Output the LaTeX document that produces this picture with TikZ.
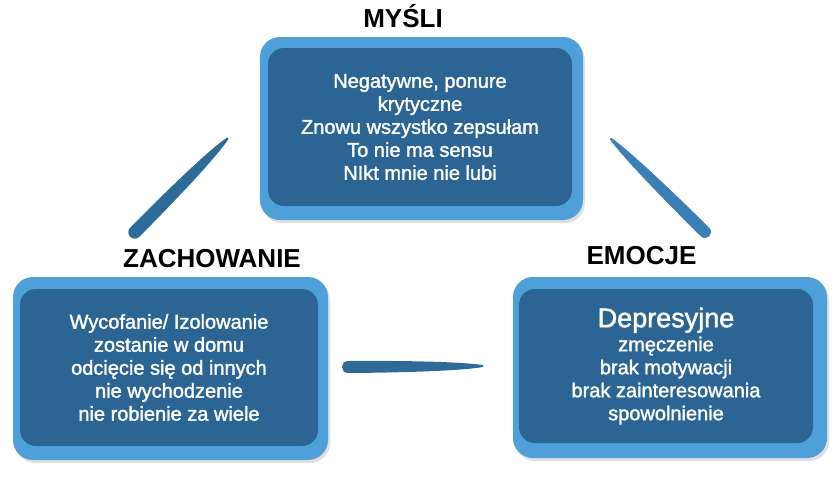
\documentclass[tikz,border=0pt]{standalone}
\usepackage{fontspec}
\setmainfont{Liberation Sans}
\newfontfamily\bodyfont[FakeBold=1.6]{Liberation Sans}
\usetikzlibrary{shadows}
\definecolor{frameblue}{HTML}{4F9FD8}
\definecolor{boxblue}{HTML}{2C6594}
\definecolor{strokeA}{HTML}{2F6B98}
\definecolor{strokeB}{HTML}{3B80B5}
\begin{document}
\begin{tikzpicture}[x=1pt,y=-1pt,
  frame/.style={fill=frameblue, rounded corners=20pt, inner sep=0pt,
    drop shadow={shadow xshift=2pt, shadow yshift=-3pt, opacity=0.25}},
  panel/.style={fill=boxblue, rounded corners=16pt, inner sep=0pt, text=white,
    align=center, font=\bodyfont\fontsize{20}{23}\selectfont},
  title/.style={font=\bfseries\fontsize{26}{30}\selectfont, anchor=base},
  brushfill/.style={fill=#1}
]
\useasboundingbox (0,0) rectangle (840,480);

% frames and panels
\node[frame, minimum width=323pt, minimum height=183pt] (tframe) at (421.5,128.5) {};
\node[panel, minimum width=304pt, minimum height=158pt] (tbox) at (420,127)
  {Negatywne, ponure\\krytyczne\\Znowu wszystko zepsułam\\To nie ma sensu\\NIkt mnie nie lubi};

\node[frame, minimum width=315pt, minimum height=183pt] (lframe) at (170.5,368.5) {};
\node[panel, minimum width=298pt, minimum height=157pt] (lbox) at (169,367.5)
  {Wycofanie/ Izolowanie\\zostanie w domu\\odcięcie się od innych\\nie wychodzenie\\nie robienie za wiele};

\node[frame, minimum width=314pt, minimum height=181pt] (rframe) at (670,367.5) {};
\node[panel, minimum width=294pt, minimum height=154pt] (rbox) at (666,366)
  {{\fontsize{27}{30}\selectfont Depresyjne}\\[1pt]zmęczenie\\brak motywacji\\brak zainteresowania\\spowolnienie};

% titles
\node[title] (tmysli) at (403,27) {MYŚLI};
\node[title] (tzach) at (212,267) {ZACHOWANIE};
\node[title] (temoc) at (641.5,264) {EMOCJE};

% brush strokes
\begin{scope}[shift={(135,232)}, rotate=45.3]
  \fill[brushfill=strokeA] (0,-6.5) .. controls (-9,-6.5) and (-9,6.5) .. (0,6.5)
    .. controls (60,6.5) and (112,5) .. (132,1) -- (132,-1)
    .. controls (112,-5) and (60,-6.5) .. (0,-6.5) -- cycle;
\end{scope}
\begin{scope}[shift={(705,232)}, rotate=135.3]
  \fill[brushfill=strokeB] (0,-6) .. controls (-8,-6) and (-8,6) .. (0,6)
    .. controls (60,6) and (112,4.5) .. (133,1) -- (133,-1)
    .. controls (112,-4.5) and (60,-6) .. (0,-6) -- cycle;
\end{scope}
\begin{scope}[shift={(348,367)}, rotate=0.4]
  \fill[brushfill=strokeA] (0,-6) .. controls (-8,-6) and (-8,6) .. (0,6)
    .. controls (60,6) and (112,4.5) .. (135,1) -- (135,-1)
    .. controls (112,-4.5) and (60,-6) .. (0,-6) -- cycle;
\end{scope}
\end{tikzpicture}
\end{document}
